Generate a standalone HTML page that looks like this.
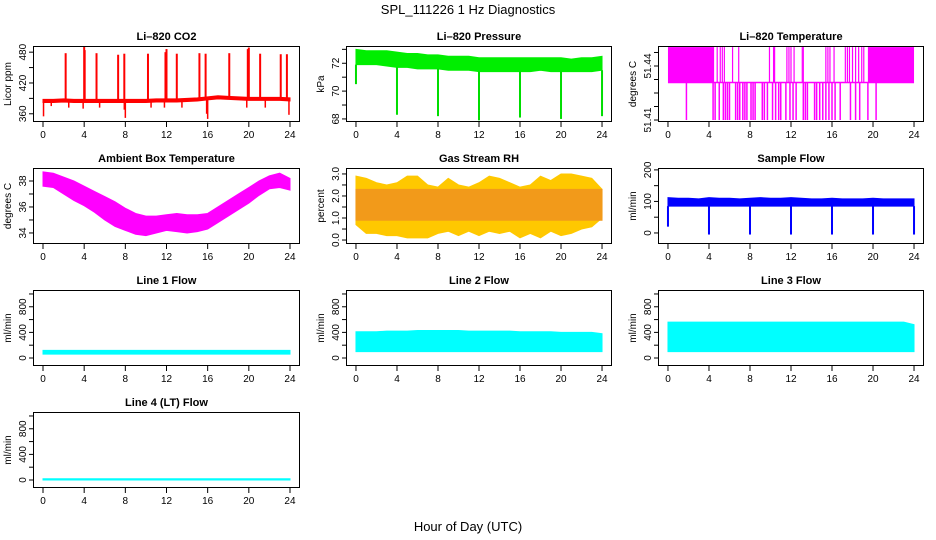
<!DOCTYPE html>
<html><head><meta charset="utf-8">
<style>
html,body{margin:0;padding:0;background:#fff;}
svg{display:block;font-family:"Liberation Sans",Arial,sans-serif;}
</style></head>
<body>
<svg id="chart" width="936" height="540" viewBox="0 0 936 540" xmlns="http://www.w3.org/2000/svg">
<text x="468" y="14" text-anchor="middle" font-size="13">SPL_111226  1 Hz Diagnostics</text>
<text x="468" y="531" text-anchor="middle" font-size="13">Hour of Day (UTC)</text>
</svg>
<script>
// ---------- data ----------
const hours = [0,1,2,3,4,5,6,7,8,9,10,11,12,13,14,15,16,17,18,19,20,21,22,23,24];
const xTicks = [0,4,8,12,16,20,24];

const co2Base = [385,385,386,385,385,385,385,385,385,385,385,386,386,386,387,388,390,392,391,390,389,389,389,389,388];
const co2SpikeHours = [2.2,4.0,4.05,5.2,7.3,7.9,10.2,11.9,12.0,13.0,15.2,15.8,18.1,19.9,20.0,21.1,23.1,23.7];
const co2SpikeVals = [478,490,484,478,475,477,477,480,486,477,478,477,478,486,489,477,476,476];
const co2DipHours = [0.05,0.8,2.5,3.9,5.5,7.9,8.0,10.5,11.8,13.5,15.9,16.0,19.8,21.6,23.9];
const co2DipVals = [355,375,372,370,372,368,352,372,372,372,360,350,372,372,358];

const presTop = [73.0,72.9,72.9,72.9,72.8,72.7,72.7,72.6,72.6,72.5,72.5,72.5,72.4,72.4,72.4,72.4,72.4,72.4,72.4,72.4,72.4,72.3,72.4,72.4,72.5];
const presBot = [71.9,71.9,71.9,71.8,71.7,71.7,71.6,71.6,71.6,71.5,71.5,71.5,71.4,71.4,71.4,71.4,71.4,71.4,71.5,71.4,71.4,71.4,71.4,71.4,71.5];
const presDipHours = [0,4,8,12,16,20,24];
const presDipVals = [70.5,68.3,68.2,67.9,68.1,68.0,68.2];

const tempLow = 51.41, tempMid = 51.4308, tempHigh = 51.4505;
const tempHighBlocks = [[0,4.5],[19.5,24]];
const tempUpHours = [4.8,5.1,5.3,5.5,6.3,6.9,9.9,10.3,10.4,11.6,11.8,12.0,12.3,13.1,13.2,15.4,15.6,15.8,16.2,17.3,17.5,17.7,18.0,18.3,18.6,18.9,19.1];
const tempDownHours = [1.8,4.4,4.6,5.0,5.4,5.6,5.8,6.0,6.6,6.8,7.0,7.3,7.5,7.7,8.1,8.3,8.5,9.2,9.4,9.7,10.2,10.5,10.8,11.0,11.5,11.9,12.2,12.5,13.2,13.4,13.6,14.3,14.5,14.8,15.1,15.4,15.7,16.0,16.3,16.8,17.8,18.3,18.7,19.5,20.3];

const ambHi = [38.7,38.6,38.3,38.0,37.6,37.2,36.8,36.4,35.9,35.5,35.3,35.3,35.4,35.5,35.4,35.4,35.5,36.0,36.5,37.0,37.5,38.0,38.4,38.6,38.2];
const ambLo = [37.6,37.5,37.0,36.5,36.1,35.6,35.0,34.5,34.2,33.9,33.8,34.0,34.2,34.1,34.0,34.1,34.3,34.8,35.3,35.8,36.3,36.9,37.4,37.5,37.3];

const rhHi = [2.9,2.8,2.6,2.5,2.6,2.9,2.9,2.5,2.4,2.8,2.5,2.4,2.6,2.9,2.8,2.6,2.4,2.5,2.9,2.7,3.0,3.0,2.9,2.8,2.3];
const rhLo = [0.7,0.3,0.3,0.2,0.2,0.1,0.1,0.1,0.3,0.4,0.2,0.4,0.2,0.4,0.3,0.4,0.1,0.3,0.1,0.4,0.2,0.3,0.5,0.6,1.0];
const rhCoreHi = 2.3, rhCoreLo = 0.9;

const sfHi = [112,110,110,108,112,110,110,108,110,112,110,110,112,110,108,108,110,108,108,108,110,108,108,108,108];
const sfLo = [85,85,85,85,85,85,85,85,85,85,85,85,85,85,85,85,85,85,85,85,85,85,85,85,85];
const sfDipHours = [0,4,8,12,16,20,24];
const sfDipVals = [20,-5,-5,-5,-5,-5,-5];

const l1Hi = [120,120,120,120,120,120,120,120,120,120,120,120,120,120,120,120,120,120,120,120,120,120,120,120,120];
const l1Lo = [60,60,60,60,60,60,60,60,60,60,60,60,60,60,60,60,60,60,60,60,60,60,60,60,60];
const l2Hi = [410,410,410,420,420,420,430,430,430,430,430,420,420,420,420,420,410,410,410,410,400,400,400,400,380];
const l2Lo = [100,100,100,100,100,100,100,100,100,100,100,100,100,100,100,100,100,100,100,100,100,100,100,100,100];
const l3Hi = [560,560,560,560,560,560,560,560,560,560,560,560,560,560,560,560,560,560,560,560,560,560,560,560,520];
const l3Lo = [100,100,100,100,100,100,100,100,100,100,100,100,100,100,100,100,100,100,100,100,100,100,100,100,100];
const l4Hi = [20,20,20,20,20,20,20,20,20,20,20,20,20,20,20,20,20,20,20,20,20,20,20,20,20];
const l4Lo = [0,0,0,0,0,0,0,0,0,0,0,0,0,0,0,0,0,0,0,0,0,0,0,0,0];

// ---------- layout ----------
const NS = "http://www.w3.org/2000/svg";
const svg = document.getElementById('chart');
const colX = [[33,300],[346,612],[658,924]];
function rowY(r){ return [46+122*r, 122+122*r]; }

function mk(tag, attrs, parent){
  const e = document.createElementNS(NS, tag);
  for (const k in attrs) e.setAttribute(k, attrs[k]);
  (parent||svg).appendChild(e);
  return e;
}

function panel(name, title, ytitle, col, row, ylim, ticks, labels){
  const [x0,x1] = colX[col], [y0,y1] = rowY(row);
  const g = mk('g', {});
  
  
  const pad = (x1-x0)*0.0375;
  const sx = v => x0 + pad + (v/24)*(x1-x0-2*pad);
  const sy = v => y1 - (v-ylim[0])/(ylim[1]-ylim[0])*(y1-y0);
  const t = mk('text', {x:(x0+x1)/2, y:y0-6, 'text-anchor':'middle', 'font-size':11, 'font-weight':'bold'}, g);
  t.textContent = title;
  
  
  const yt = mk('text', {x:0, y:0, 'text-anchor':'middle', 'font-size':10, transform:`translate(${x0-22},${(y0+y1)/2}) rotate(-90)`}, g);
  yt.textContent = ytitle;
  
  
  const plot = mk('g', {}, g);
  
  
  // axes drawn after
  const ax = mk('g', {stroke:'#000', 'stroke-width':1, fill:'none'}, null);
  mk('rect', {x:x0+0.5, y:y0+0.5, width:x1-x0-1, height:y1-y0-1}, ax);
  xTicks.forEach(h => {
    mk('line', {x1:sx(h), x2:sx(h), y1:y1, y2:y1+5}, ax);
    const l = mk('text', {x:sx(h), y:y1+16, 'text-anchor':'middle', 'font-size':10, fill:'#000', stroke:'none'}, g);
    l.textContent = h;
    
    
  });
  ticks.forEach((v,i) => {
    mk('line', {x1:x0, x2:x0-4, y1:sy(v), y2:sy(v)}, ax);
    if (labels[i] !== '') {
      const l = mk('text', {x:0, y:0, 'text-anchor':'middle', 'font-size':10, transform:`translate(${x0-7},${sy(v)}) rotate(-90)`, fill:'#000', stroke:'none'}, g);
      l.textContent = labels[i];
      
      
    }
  });
  
  
  return {sx, sy, plot, ax};
}

function band(p, lo, hi, color, nm){
  let d = '';
  hours.forEach((h,i)=>{ d += (i?'L':'M') + p.sx(h) + ',' + p.sy(hi[i]); });
  for (let i=hours.length-1;i>=0;i--) d += 'L' + p.sx(hours[i]) + ',' + p.sy(lo[i]);
  const e = mk('path', {d:d+'Z', fill:color, stroke:color, 'stroke-width':1}, p.plot);
  
  
}
function vlines(p, hs, from, vals, color, nm, w){
  hs.forEach((h,i)=>{
    const a = Array.isArray(from)? from[i] : from;
    const e = mk('line', {x1:p.sx(h), x2:p.sx(h), y1:p.sy(a), y2:p.sy(vals[i]), stroke:color, 'stroke-width':w||2}, p.plot);
    
    
  });
}
function baseAt(arr, h){ const i=Math.min(23,Math.floor(h)); const f=h-i; return arr[i]*(1-f)+arr[i+1]*f; }

// CO2
let p = panel('co2','Li\u2013820 CO2','Licor ppm',0,0,[344,492],[360,390,420,450,480],['360','','420','','480']);
band(p, co2Base.map(v=>v-3), co2Base.map(v=>v+3), '#ff0000', 'co2-series');
vlines(p, co2SpikeHours, co2SpikeHours.map(h=>baseAt(co2Base,h)), co2SpikeVals, '#ff0000', 'co2-spike', 2);
vlines(p, co2DipHours, co2DipHours.map(h=>baseAt(co2Base,h)), co2DipVals, '#ff0000', 'co2-dip', 1.5);

// Pressure
p = panel('pressure','Li\u2013820 Pressure','kPa',1,0,[67.78,73.24],[68,69,70,71,72,73],['68','','70','','72','']);
band(p, presBot, presTop, '#00ee00', 'pressure-series');
vlines(p, presDipHours, presDipHours.map(h=>baseAt(presBot,h)), presDipVals, '#00dd00', 'pressure-dip', 2);

// Temperature
p = panel('li820-temp','Li\u2013820 Temperature','degrees C',2,0,[51.4089,51.4511],[51.41,51.4175,51.425,51.4325,51.44,51.4475],['51.41','','','','51.44','']);
const tl = mk('line',{x1:p.sx(0),x2:p.sx(24),y1:p.sy(tempMid),y2:p.sy(tempMid),stroke:'#ff00ff','stroke-width':1.5},p.plot);


tempHighBlocks.forEach(b=>{
  const r = mk('rect',{x:p.sx(b[0]),y:p.sy(tempHigh),width:p.sx(b[1])-p.sx(b[0]),height:p.sy(tempMid)-p.sy(tempHigh),fill:'#ff00ff'},p.plot);
  
  
});
vlines(p, tempUpHours, tempMid, tempUpHours.map(()=>tempHigh), '#ff00ff', 'temp-up-switch', 1.2);
vlines(p, tempDownHours, tempMid, tempDownHours.map(()=>tempLow), '#ff00ff', 'temp-down-switch', 1.5);

// Ambient
p = panel('ambient','Ambient Box Temperature','degrees C',0,1,[33.15,39.0],[34,35,36,37,38],['34','','36','','38']);
band(p, ambLo, ambHi, '#ff00ff', 'ambient-series');

// RH
p = panel('rh','Gas Stream RH','percent',1,1,[-0.18,3.27],[0,0.5,1,1.5,2,2.5,3],['0.0','','1.0','','2.0','','3.0']);
band(p, rhLo, rhHi, '#ffc800', 'rh-series-outer');
band(p, hours.map(()=>rhCoreLo), hours.map(()=>rhCoreHi), '#f29a1a', 'rh-series-core');

// Sample flow
p = panel('sample-flow','Sample Flow','ml/min',2,1,[-35,206],[0,50,100,150,200],['0','','100','','200']);
band(p, sfLo, sfHi, '#0000ff', 'sample-flow-series');
vlines(p, sfDipHours, sfDipHours.map(h=>baseAt(sfLo,h)), sfDipVals, '#0000ff', 'sample-flow-dip', 2);

// Line flows
const fTicks=[0,200,400,600,800,1000], fLabs=['0','','400','','800',''];
p = panel('line1','Line 1 Flow','ml/min',0,2,[-125,1062],fTicks,fLabs);
band(p, l1Lo, l1Hi, '#00ffff', 'line1-series');
p = panel('line2','Line 2 Flow','ml/min',1,2,[-125,1062],fTicks,fLabs);
band(p, l2Lo, l2Hi, '#00ffff', 'line2-series');
p = panel('line3','Line 3 Flow','ml/min',2,2,[-125,1062],fTicks,fLabs);
band(p, l3Lo, l3Hi, '#00ffff', 'line3-series');
p = panel('line4','Line 4 (LT) Flow','ml/min',0,3,[-125,1062],fTicks,fLabs);
band(p, l4Lo, l4Hi, '#00ffff', 'line4-series');
</script>
</body></html>
